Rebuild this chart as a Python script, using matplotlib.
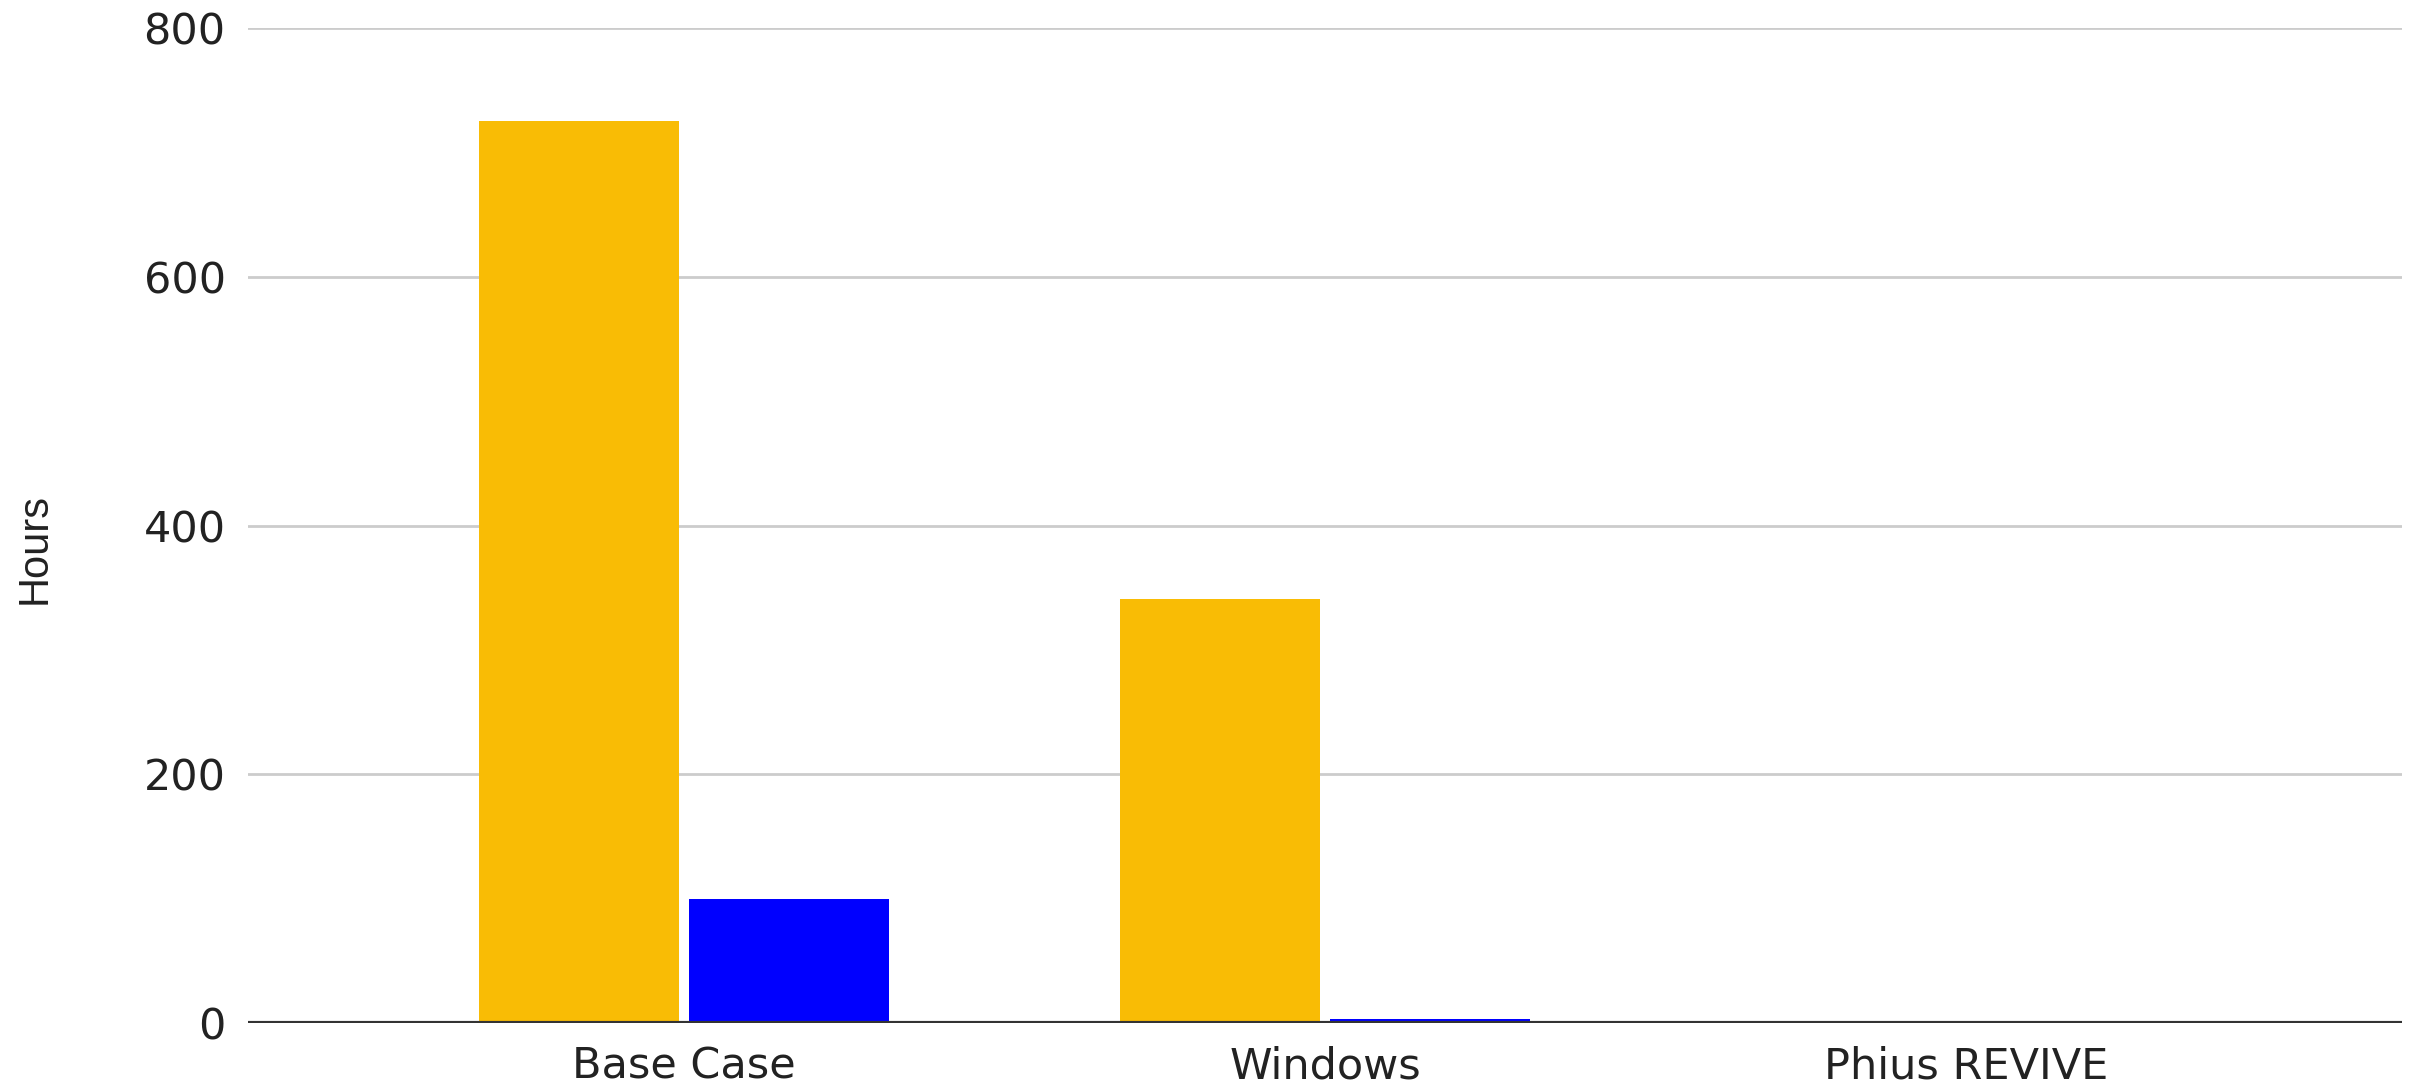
import numpy as np
import matplotlib
matplotlib.use("Agg")
import matplotlib.pyplot as plt

categories = ["Base Case", "Windows", "Phius REVIVE"]
series_a = [725, 341, 0]   # orange
series_b = [100, 3, 0]     # blue
yticks = [0, 200, 400, 600, 800]

plt.rcParams['font.family'] = ['DejaVu Sans']

fig = plt.figure(figsize=(24.3, 10.86), dpi=100)
ax = fig.add_axes([0.102, 0.058, 0.8865, 0.916])

x = np.arange(len(categories))
w = 0.312
off = 0.164
ax.bar(x - off, series_a, width=w, color="#F9BC05", zorder=3)
ax.bar(x + off, series_b, width=w, color="#0000FF", zorder=3)

ax.set_xlim(-0.68, 2.68)
ax.set_ylim(0, 800)
ax.set_yticks(yticks)
ax.set_xticks(x)
ax.set_xticklabels(categories)

ax.grid(axis="y", color="#cccccc", linewidth=2, zorder=0)
ax.axhline(0, color="#333333", linewidth=3, zorder=4)
for s in ax.spines.values():
    s.set_visible(False)
ax.tick_params(axis="both", length=0, labelsize=31, colors="#222222")
ax.tick_params(axis="y", pad=16)
ax.tick_params(axis="x", pad=16)

ax.set_ylabel("Hours", fontsize=30, color="#222222", family="Liberation Sans",
              va="center", ha="center")
ax.yaxis.set_label_coords(-0.099, 0.477)

fig.savefig("out.png", dpi=100, facecolor="white")
